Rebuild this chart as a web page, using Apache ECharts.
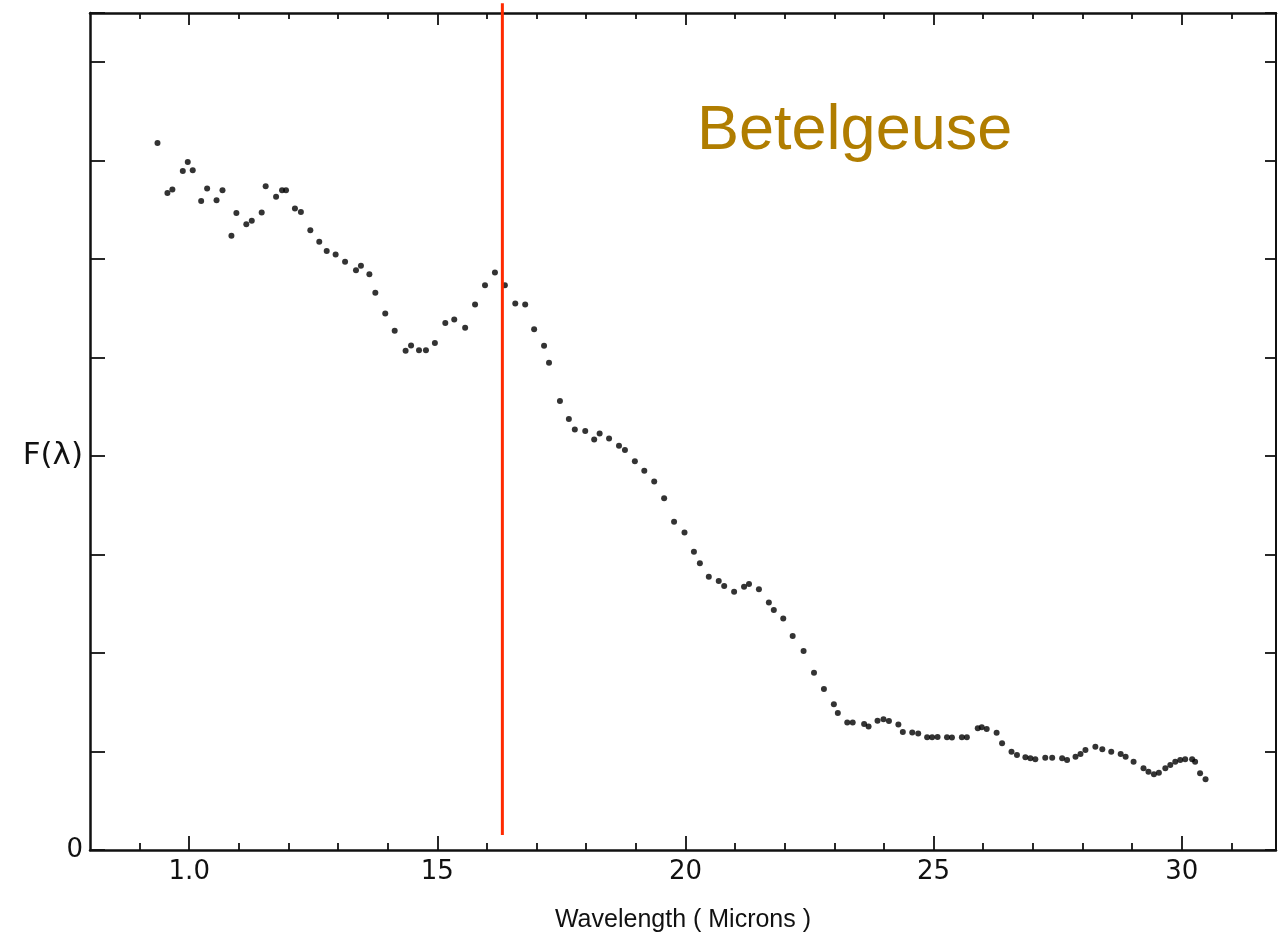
<!DOCTYPE html>
<html>
<head>
<meta charset="utf-8">
<script src="https://cdn.jsdelivr.net/npm/echarts@6/dist/echarts.min.js"></script>
<style>html,body{margin:0;padding:0;background:#fff;}#chart{width:1281px;height:940px;}</style>
</head>
<body>
<div id="chart"></div>
<script>
// Wavelength (microns) of each measured point
const wavelength = [0.936,0.956,0.966,0.987,0.997,1.007,1.024,1.036,1.055,1.067,1.085,1.095,1.115,1.126,1.146,1.154,1.175,1.187,1.195,1.213,1.225,1.244,1.262,1.277,1.295,1.314,1.336,1.346,1.363,1.375,1.395,1.414,1.436,1.447,1.463,1.477,1.495,1.516,1.534,1.556,1.576,1.596,1.616,1.636,1.657,1.677,1.695,1.715,1.725,1.747,1.765,1.777,1.798,1.816,1.827,1.846,1.866,1.878,1.898,1.917,1.937,1.957,1.977,1.998,2.017,2.029,2.047,2.067,2.078,2.098,2.118,2.128,2.148,2.168,2.178,2.197,2.216,2.238,2.259,2.279,2.299,2.307,2.326,2.337,2.360,2.369,2.387,2.399,2.410,2.429,2.438,2.457,2.469,2.487,2.497,2.508,2.527,2.537,2.557,2.567,2.589,2.597,2.607,2.627,2.638,2.657,2.668,2.685,2.695,2.705,2.725,2.739,2.759,2.769,2.786,2.796,2.806,2.826,2.840,2.858,2.877,2.887,2.903,2.923,2.933,2.944,2.954,2.967,2.977,2.987,2.997,3.007,3.021,3.027,3.037,3.048];
// Flux F(lambda), arbitrary units
const flux = [7.181,6.673,6.708,6.896,6.988,6.904,6.592,6.718,6.599,6.701,6.237,6.470,6.355,6.389,6.474,6.741,6.633,6.701,6.701,6.515,6.480,6.294,6.176,6.084,6.048,5.973,5.888,5.932,5.848,5.658,5.449,5.272,5.069,5.124,5.076,5.076,5.150,5.353,5.388,5.303,5.540,5.736,5.865,5.736,5.550,5.540,5.289,5.120,4.947,4.561,4.376,4.271,4.254,4.169,4.230,4.180,4.105,4.061,3.949,3.851,3.743,3.571,3.333,3.225,3.028,2.911,2.775,2.731,2.680,2.622,2.673,2.701,2.647,2.513,2.437,2.352,2.173,2.020,1.800,1.635,1.479,1.391,1.296,1.296,1.279,1.254,1.313,1.327,1.310,1.274,1.198,1.193,1.183,1.144,1.144,1.147,1.144,1.142,1.144,1.144,1.236,1.246,1.228,1.191,1.083,0.998,0.964,0.941,0.931,0.921,0.937,0.937,0.931,0.914,0.947,0.975,1.015,1.049,1.022,0.998,0.975,0.947,0.896,0.829,0.795,0.769,0.785,0.829,0.863,0.896,0.914,0.921,0.921,0.896,0.779,0.718];
// Marker line position (microns) and its vertical extent
const markerX = 1.631;
const markerY = [0.152, 8.6];
// Axis ticks and labels
const xMinorTicks = [0.9,1.1,1.2,1.3,1.4,1.6,1.7,1.8,1.9,2.1,2.2,2.3,2.4,2.6,2.7,2.8,2.9,3.1];
const xMajorTicks = [1.0,1.5,2.0,2.5,3.0];
const xTickLabels = ['1.0','15','20','25','30'];
const yLabelMap = {0:'0', 4:'F(λ)'};
const titleText = 'Betelgeuse';
const xName = 'Wavelength ( Microns )';

const points = wavelength.map((w,i)=>[w, flux[i]]);
const lineCol = '#111111';
const base = {min:0.8, max:3.19, type:'value', splitLine:{show:false}};
const chart = echarts.init(document.getElementById('chart'), null, {renderer:'canvas'});
chart.setOption({
  animation:false,
  backgroundColor:'#ffffff',
  title:{text:titleText, left:697, top:100, padding:0,
    textStyle:{fontFamily:'Liberation Sans, Arial, sans-serif', fontSize:63, fontWeight:'normal', color:'#b07d00'}},
  grid:{left:90, right:5, top:13, bottom:90, containLabel:false},
  xAxis:[
    Object.assign({}, base, {position:'bottom',
      axisLine:{show:true, onZero:false, lineStyle:{color:lineCol, width:2.5}},
      axisTick:{show:true, inside:true, length:7, customValues:xMinorTicks, lineStyle:{color:lineCol, width:1.8}},
      axisLabel:{show:true, customValues:xMajorTicks, margin:9, color:'#111', fontSize:26, fontFamily:'DejaVu Sans, sans-serif',
        formatter:(v)=>{const i=xMajorTicks.findIndex(t=>Math.abs(t-v)<1e-6); return i>=0?xTickLabels[i]:'';}},
      name:xName, nameLocation:'middle', nameGap:58,
      nameTextStyle:{color:'#111', fontSize:25, fontFamily:'Liberation Sans, Arial, sans-serif'}
    }),
    Object.assign({}, base, {position:'bottom',
      axisLine:{show:false, onZero:false},
      axisTick:{show:true, inside:true, length:14, customValues:xMajorTicks, lineStyle:{color:lineCol, width:1.8}},
      axisLabel:{show:false}
    }),
    Object.assign({}, base, {position:'top',
      axisLine:{show:true, onZero:false, lineStyle:{color:lineCol, width:2.5}},
      axisTick:{show:true, inside:true, length:6, customValues:xMinorTicks, lineStyle:{color:lineCol, width:1.8}},
      axisLabel:{show:false}
    }),
    Object.assign({}, base, {position:'top',
      axisLine:{show:false, onZero:false},
      axisTick:{show:true, inside:true, length:12, customValues:xMajorTicks, lineStyle:{color:lineCol, width:1.8}},
      axisLabel:{show:false}
    })
  ],
  yAxis:[
    {type:'value', min:0, max:8.5, interval:1, position:'left', splitLine:{show:false},
      axisLine:{show:true, onZero:false, lineStyle:{color:lineCol, width:2.5}},
      axisTick:{show:true, inside:true, length:15, lineStyle:{color:lineCol, width:1.8}},
      axisLabel:{show:true, margin:7, color:'#111', fontSize:26, fontFamily:'DejaVu Sans, sans-serif',
        formatter:(v)=> (v===4 ? '{f|'+yLabelMap[v]+'}' : (yLabelMap[v] !== undefined ? yLabelMap[v] : '')),
        rich:{f:{fontSize:31, fontFamily:'DejaVu Sans, sans-serif', color:'#111'}}}
    },
    {type:'value', min:0, max:8.5, interval:1, position:'right', splitLine:{show:false},
      axisLine:{show:true, onZero:false, lineStyle:{color:lineCol, width:2}},
      axisTick:{show:true, inside:true, length:11, lineStyle:{color:lineCol, width:1.8}},
      axisLabel:{show:false}
    }
  ],
  series:[
    {type:'scatter', xAxisIndex:0, yAxisIndex:0, data:points, symbol:'circle', symbolSize:6,
      itemStyle:{color:'#000000'}, silent:true},
    {type:'line', xAxisIndex:0, yAxisIndex:0, data:[[markerX, markerY[0]],[markerX, markerY[1]]],
      clip:false, symbol:'none', lineStyle:{color:'#ff2a00', width:3}, silent:true, z:5}
  ]
});
</script>
</body>
</html>
